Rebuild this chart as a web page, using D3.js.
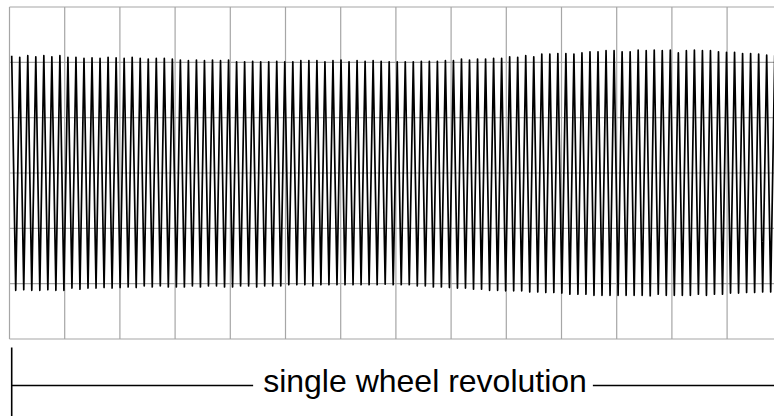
<!DOCTYPE html>
<html>
<head>
<meta charset="utf-8">
<script src="https://cdn.jsdelivr.net/npm/d3@7"></script>
<style>
  html, body { margin: 0; padding: 0; background: #fff; }
  svg { display: block; }
</style>
</head>
<body>
<div id="chart"></div>
<script>
// peak / trough amplitude of each cycle, in grid divisions
const peaks = [
  2.12, 2.09, 2.12, 2.10, 2.12, 2.10, 2.12,
  2.09, 2.09, 2.07, 2.08, 2.07, 2.09, 2.08,
  2.07, 2.09, 2.07, 2.06, 2.07, 2.07, 2.06,
  2.04, 2.03, 2.04, 2.03, 2.04, 2.03, 2.04,
  2.01, 2.01, 2.02, 2.01, 2.01, 2.02, 2.01,
  2.01, 2.03, 2.03, 2.03, 2.01, 2.03, 2.04,
  2.01, 2.03, 2.02, 2.03, 2.02, 2.01,
  2.01, 2.01, 2.01, 2.02, 2.02, 2.02, 2.03,
  2.03, 2.06, 2.04, 2.06, 2.06, 2.07, 2.07,
  2.10, 2.09, 2.12, 2.10, 2.15, 2.15, 2.16,
  2.16, 2.15, 2.17, 2.19, 2.19, 2.21, 2.21,
  2.19, 2.19, 2.22, 2.21, 2.22, 2.21, 2.22,
  2.17, 2.21, 2.22, 2.21, 2.21, 2.19, 2.18,
  2.18, 2.16, 2.16, 2.15, 2.13, 2.13
];
const troughs = [
  -2.12, -2.11, -2.12, -2.12, -2.11, -2.12, -2.12,
  -2.08, -2.10, -2.08, -2.08, -2.07, -2.08, -2.07,
  -2.06, -2.07, -2.04, -2.06, -2.04, -2.06, -2.06,
  -2.06, -2.04, -2.06, -2.04, -2.04, -2.06, -2.06,
  -2.04, -2.04, -2.06, -2.04, -2.04, -2.04, -2.02,
  -2.02, -2.02, -2.04, -2.02, -2.02, -2.02, -2.02,
  -2.02, -2.02, -2.02, -2.02, -2.01, -2.02,
  -2.02, -2.02, -2.04, -2.04, -2.06, -2.06, -2.07,
  -2.08, -2.08, -2.10, -2.10, -2.12, -2.12, -2.13,
  -2.13, -2.13, -2.15, -2.15, -2.16, -2.16, -2.17,
  -2.19, -2.19, -2.19, -2.21, -2.21, -2.21, -2.21,
  -2.21, -2.21, -2.21, -2.22, -2.19, -2.21, -2.21,
  -2.21, -2.21, -2.19, -2.21, -2.19, -2.19, -2.17,
  -2.17, -2.16, -2.16, -2.15, -2.15
];

// time of first peak and cycle length, in grid divisions
const startTime = 0.04;
const cycleLength = 0.1455;

// grid divisions
const xDivisions = d3.range(0, 15);
const yDivisions = d3.range(-3, 4);

const label = "single wheel revolution";

const width = 774;
const height = 416;

const svg = d3.select("#chart")
  .append("svg")
  .attr("width", width)
  .attr("height", height);

const x = d3.scaleLinear().domain([0, 14]).range([9.5, 782.3]);
const y = d3.scaleLinear().domain([-3, 3]).range([339, 7]);

// grid
const grid = svg.append("g")
  .attr("stroke", "#a6a6a6")
  .attr("stroke-width", 1.2);

grid.selectAll(".vgrid")
  .data(xDivisions)
  .enter()
  .append("line")
  .attr("class", "vgrid")
  .attr("x1", (d) => x(d))
  .attr("x2", (d) => x(d))
  .attr("y1", y(3))
  .attr("y2", y(-3));

grid.selectAll(".hgrid")
  .data(yDivisions)
  .enter()
  .append("line")
  .attr("class", "hgrid")
  .attr("x1", x(0))
  .attr("x2", x(14))
  .attr("y1", (d) => y(d))
  .attr("y2", (d) => y(d));

// waveform: peak then trough each cycle
const points = [];
peaks.forEach((p, i) => {
  const t = startTime + i * cycleLength;
  points.push({ t: t, v: p });
  if (i < troughs.length) {
    points.push({ t: t + cycleLength / 2, v: troughs[i] });
  }
});

const line = d3.line()
  .x((d) => x(d.t))
  .y((d) => y(d.v));

svg.append("path")
  .datum(points)
  .attr("fill", "none")
  .attr("stroke", "#000")
  .attr("stroke-width", 1.7)
  .attr("stroke-linejoin", "round")
  .attr("d", line);

// annotation: single wheel revolution
const ann = svg.append("g").attr("stroke", "#000").attr("stroke-width", 1.6);
const annY = 385.5;

ann.append("line")
  .attr("x1", 11.7).attr("x2", 11.7)
  .attr("y1", 347.5).attr("y2", height);

const txt = svg.append("text")
  .attr("x", 425)
  .attr("y", 391.7)
  .attr("text-anchor", "middle")
  .style("font-family", "'Liberation Sans', Arial, Helvetica, sans-serif")
  .style("font-size", "32px")
  .style("fill", "#000")
  .text(label);

const bb = txt.node().getBBox();

ann.append("line")
  .attr("x1", 11.7).attr("x2", bb.x - 10)
  .attr("y1", annY).attr("y2", annY);

ann.append("line")
  .attr("x1", bb.x + bb.width + 6).attr("x2", width)
  .attr("y1", annY).attr("y2", annY);
</script>
</body>
</html>
